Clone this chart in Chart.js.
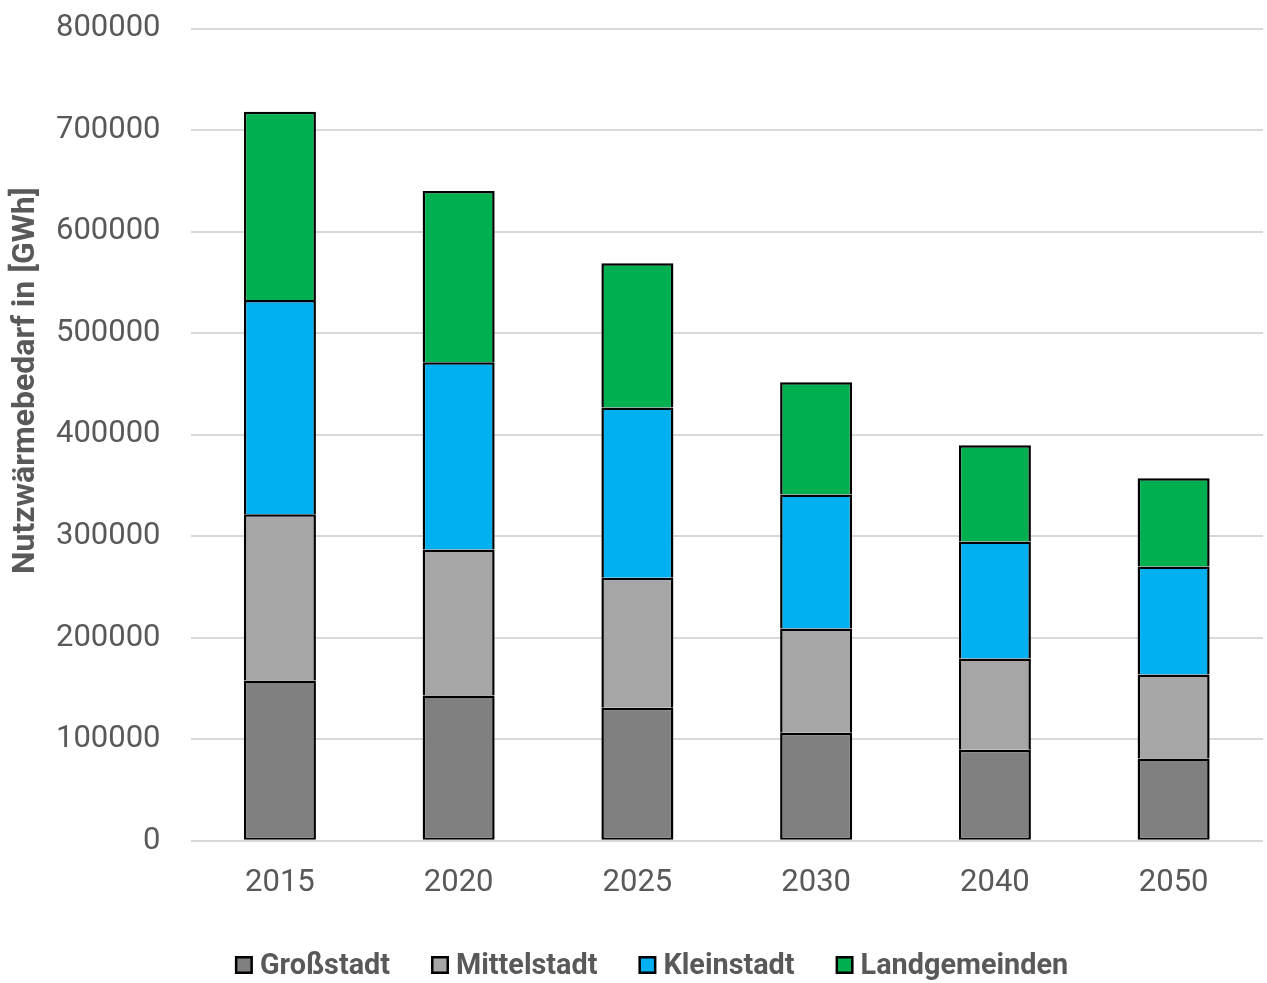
<!DOCTYPE html>
<html>
<head>
<meta charset="utf-8">
<script src="https://cdn.jsdelivr.net/npm/chart.js@4"></script>
<style>
  body { margin: 0; background: #fff; overflow: hidden; }
  #chart { display: block; margin-top: -20px; }
</style>
</head>
<body>
<canvas id="chart" width="1267" height="1003"></canvas>
<script>
// Nutzwärmebedarf je Gemeindetyp (GWh)
const years = ['2015', '2020', '2025', '2030', '2040', '2050'];
const grossstadt = [158000, 143000, 131000, 106500, 89700, 81000];
const mittelstadt = [163700, 144000, 128200, 102600, 89800, 82800];
const kleinstadt = [211000, 184400, 167600, 132100, 115400, 106500];
const landgemeinden = [185500, 168600, 142000, 110500, 94600, 86800];

const textColor = '#595959';
const yTitle = 'Nutzwärmebedarf in [GWh]';

function series(label, data, color, isBase) {
    return {
        label: label,
        data: data,
        backgroundColor: color,
        borderColor: '#000000',
        // segments share one outline where they touch
        borderWidth: { top: 2.5, left: 2.5, right: 2.5, bottom: isBase ? 2 : 0 },
        borderSkipped: false,
        barPercentage: 0.403,
        categoryPercentage: 1.0
    };
}

// Narrow bold text: canvas fonts here have no condensed face, so squeeze horizontally
function narrowText(c, text, x, y, size, squeeze) {
    c.save();
    c.translate(x, y);
    c.scale(squeeze, 1);
    c.font = 'bold ' + size + 'px Roboto, sans-serif';
    c.fillStyle = textColor;
    c.textBaseline = 'middle';
    c.fillText(text, 0, 0);
    const w = c.measureText(text).width * squeeze;
    c.restore();
    return w;
}

const narrowLabels = {
    id: 'narrowLabels',
    afterDraw(chart) {
        const c = chart.ctx;
        const area = chart.chartArea;

        // y-axis title, rotated
        const ts = 32, tsq = 1.0;
        c.save();
        c.translate(26, (area.top + area.bottom) / 2 - 54);
        c.rotate(-Math.PI / 2);
        c.font = 'bold ' + ts + 'px Roboto, sans-serif';
        const tw = c.measureText(yTitle).width * tsq;
        narrowText(c, yTitle, -tw / 2, 0, ts, tsq);
        c.restore();

        // legend along the bottom
        const box = 18, gap = 7, spacing = 41, ly = 985;
        const sq = 0.96, size = 30;
        c.save();
        c.font = 'bold ' + size + 'px Roboto, sans-serif';
        const items = chart.data.datasets.map(ds => ({
            ds: ds,
            w: box + gap + c.measureText(ds.label).width * sq
        }));
        c.restore();
        const total = items.reduce((s, it) => s + it.w, 0) + spacing * (items.length - 1);
        let x = (chart.width - total) / 2 + 18;
        items.forEach(it => {
            c.save();
            c.fillStyle = '#000000';
            c.fillRect(x, ly - box / 2, box, box);
            c.fillStyle = it.ds.backgroundColor;
            c.fillRect(x + 2.5, ly - box / 2 + 2.5, box - 5, box - 5);
            c.restore();
            narrowText(c, it.ds.label, x + box + gap, ly + 1, size, sq);
            x += it.w + spacing;
        });
    }
};

const ctx = document.getElementById('chart').getContext('2d');
const chart = new Chart(ctx, {
    type: 'bar',
    data: {
        labels: years,
        datasets: [
            series('Großstadt', grossstadt, '#808080', true),
            series('Mittelstadt', mittelstadt, '#a6a6a6'),
            series('Kleinstadt', kleinstadt, '#00b0f0'),
            series('Landgemeinden', landgemeinden, '#00b050')
        ]
    },
    options: {
        responsive: false,
        animation: false,
        layout: { padding: { top: 0, right: 4, left: 26, bottom: 65 } },
        plugins: {
            tooltip: { enabled: false },
            legend: { display: false }
        },
        scales: {
            x: {
                stacked: true,
                grid: { display: false },
                border: { display: false },
                ticks: { color: textColor, font: { family: 'Roboto', size: 31 }, padding: 16 }
            },
            y: {
                stacked: true,
                min: 0,
                max: 800000,
                border: { display: false },
                grid: { color: '#d9d9d9', lineWidth: 2, drawTicks: false },
                ticks: {
                    stepSize: 100000,
                    color: textColor,
                    font: { family: 'Roboto', size: 31 },
                    padding: 30,
                    callback: v => String(v)
                }
            }
        }
    },
    plugins: [narrowLabels]
});
</script>
</body>
</html>
